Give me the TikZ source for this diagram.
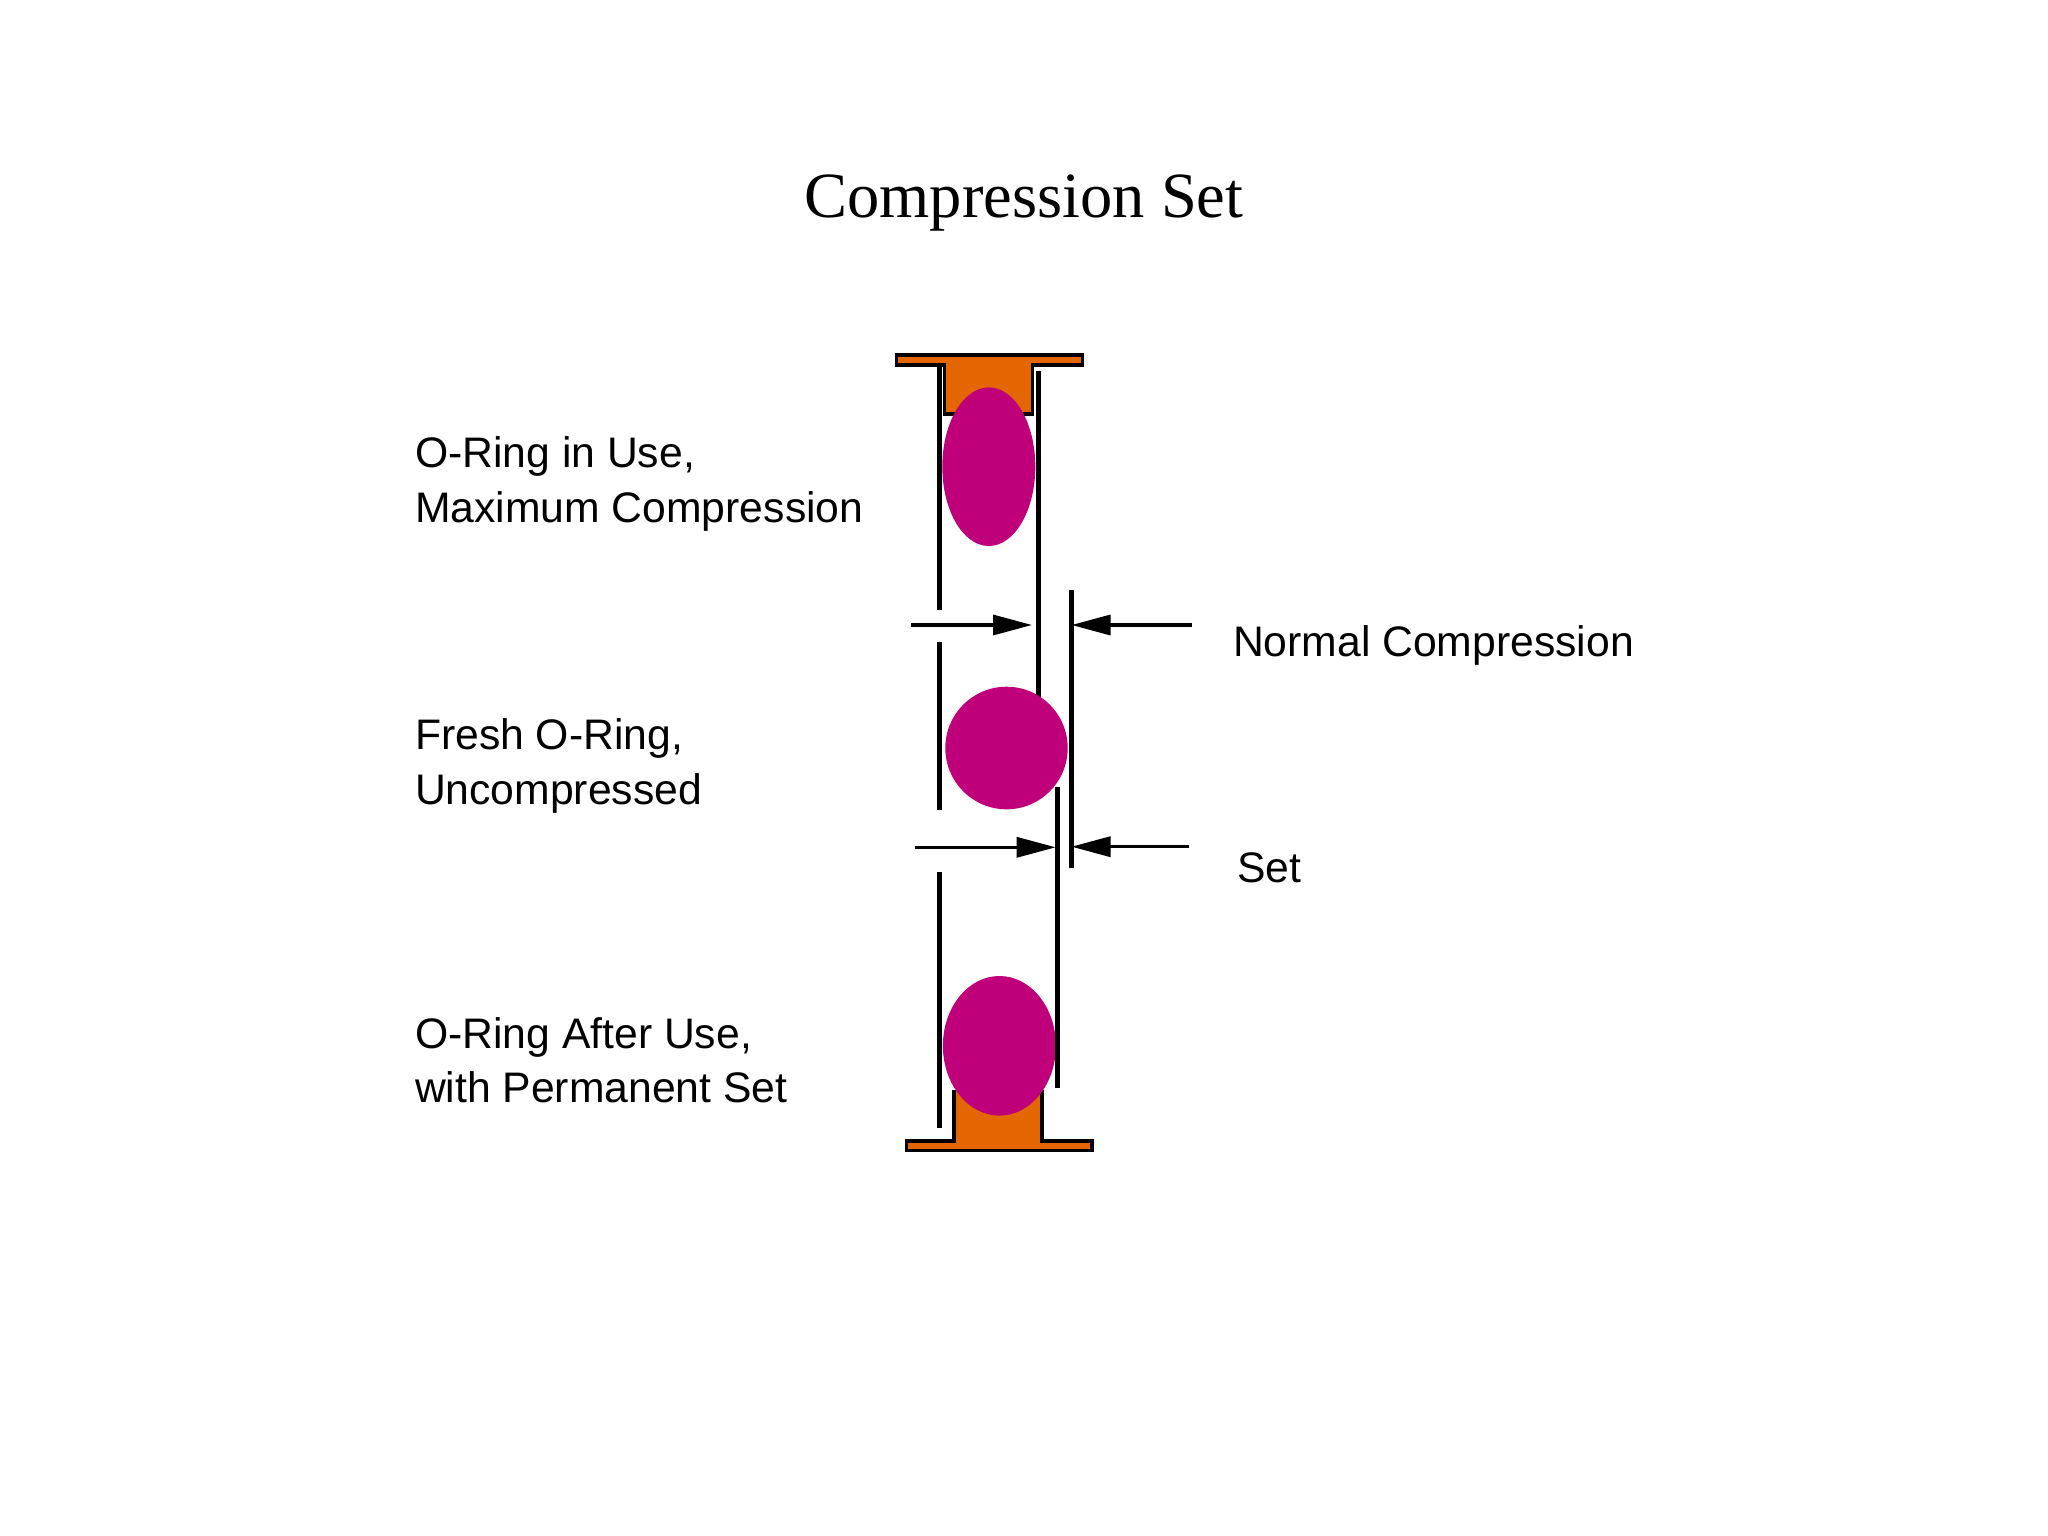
\documentclass[tikz,border=0pt]{standalone}
\usepackage{fontspec}
\setmainfont{Liberation Sans}
\newfontfamily\titlefont{Liberation Serif}
\usetikzlibrary{arrows.meta,shapes.geometric}
\definecolor{flangeorange}{RGB}{227,102,0}
\definecolor{ringmagenta}{RGB}{191,0,122}
\tikzset{
  x=1pt,y=-1pt,
  flange/.style={draw=black,fill=flangeorange,line width=3.4pt,line join=miter},
  ring/.style={ellipse,fill=ringmagenta,draw=none,inner sep=0pt,outer sep=0pt},
  wall/.style={draw=black,line width=5pt},
  dim/.style={draw=black,line width=3.3pt,-{Triangle[length=39pt,width=20pt]},shorten >=0pt},
  lbl/.style={inner sep=0pt,outer sep=0pt,align=left,text=black,font=\fontsize{42.7}{54.5}\selectfont},
}
\begin{document}
\begin{tikzpicture}
\useasboundingbox (0,0) rectangle (2048,1536);
\fill[white] (0,0) rectangle (2048,1536);
\node[anchor=base,inner sep=0pt,font=\titlefont\fontsize{64.5}{70}\selectfont] (title) at (1024,217.5) {Compression Set};

% flanges
\draw[flange] (896.5,355) -- (1082.5,355) -- (1082.5,365) -- (1032.5,365) -- (1032.5,414) -- (944.5,414) -- (944.5,365) -- (896.5,365) -- cycle;
\fill[flangeorange] (955.5,1091) rectangle (1040.5,1141);
\draw[flange] (954,1090) -- (954,1141) -- (906.5,1141) -- (906.5,1150.7) -- (1092,1150.7) -- (1092,1141) -- (1042,1141) -- (1042,1090);

% wall end points
\coordinate (a1) at (939,365); \coordinate (a2) at (939,610);
\coordinate (b1) at (939,642); \coordinate (b2) at (939,810);
\coordinate (c1) at (939,872); \coordinate (c2) at (939,1128);
\coordinate (d1) at (1038.5,371); \coordinate (d2) at (1038.5,705);
\coordinate (e1) at (1071,590); \coordinate (e2) at (1071,868);
\coordinate (f1) at (1057.5,787); \coordinate (f2) at (1057.5,1088);
\draw[wall] (a1) -- (a2);
\draw[wall] (b1) -- (b2);
\draw[wall] (c1) -- (c2);
\draw[wall] (d1) -- (d2);
\draw[wall] (e1) -- (e2);

% o-rings
\node[ring,minimum width=93pt,minimum height=158.6pt] (r1) at (988.8,466.7) {};
\node[ring,minimum width=122.4pt,minimum height=122.6pt] (r2) at (1006.5,748) {};
\node[ring,minimum width=113pt,minimum height=139.6pt] (r3) at (999.4,1045.8) {};
\draw[wall] (f1) -- (f2);

% dimension arrows
\coordinate (p1) at (911,625); \coordinate (q1) at (1032,625);
\coordinate (p2) at (1192,625); \coordinate (q2) at (1071.5,625);
\coordinate (p3) at (915,847.3); \coordinate (q3) at (1055.7,847.3);
\coordinate (p4) at (1189,846.7); \coordinate (q4) at (1071.5,846.7);
\draw[dim] (p1) -- (q1);
\draw[dim] (p2) -- (q2);
\draw[dim] (p3) -- (q3);
\draw[dim] (p4) -- (q4);

% labels
\node[lbl,anchor=west] (l1) at (415,484) {O-Ring in Use,\\Maximum Compression};
\node[lbl,anchor=west] (l2) at (415,766) {Fresh O-Ring,\\Uncompressed};
\node[lbl,anchor=west] (l3) at (415,1060) {O-Ring After Use,\\with Permanent Set};
\node[lbl,anchor=base west] (l4) at (1233,656) {Normal Compression};
\node[lbl,anchor=base west] (l5) at (1237,882) {Set};
\end{tikzpicture}
\end{document}
